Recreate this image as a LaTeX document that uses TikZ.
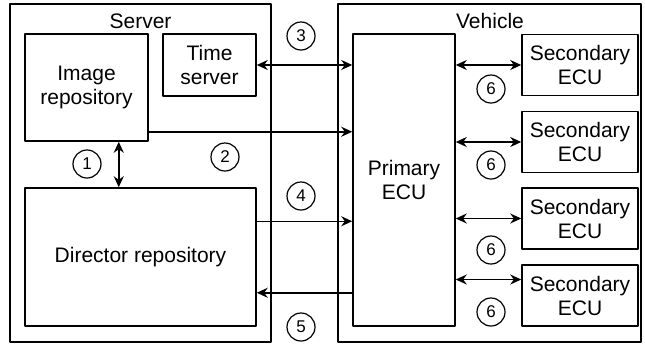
\documentclass[tikz,border=0pt]{standalone}
\usepackage{fontspec}
\setmainfont{Liberation Sans}
\usetikzlibrary{arrows.meta}
\begin{document}
\begin{tikzpicture}[x=1pt,y=-1pt,>={Stealth[length=11pt,width=10pt]},line width=1.5pt,line join=round,
	box/.style={draw,align=center,inner sep=0pt,font=\fontsize{21}{24}\selectfont},
	title/.style={anchor=base,inner sep=0pt,font=\fontsize{21}{24}\selectfont},
	num/.style={draw,circle,minimum size=28pt,inner sep=0pt,line width=1.2pt,font=\fontsize{17}{17}\selectfont}]
	\useasboundingbox (0,0) rectangle (645,346);
	\node[box,minimum width=261pt,minimum height=338pt] (server) at (140.5,173) {};
	\node[box,minimum width=303pt,minimum height=338pt] (vehicle) at (489.5,173) {};
	\node[title] (serverlbl) at (140.5,28) {Server};
	\node[title] (vehiclelbl) at (490,28) {Vehicle};
	\node[box,minimum width=123pt,minimum height=107pt] (img) at (86.5,87.5) {Image\\repository};
	\node[box,minimum width=93pt,minimum height=62pt] (time) at (209.5,65) {Time\\server};
	\node[box,minimum width=231pt,minimum height=138pt] (dir) at (140.5,257) {Director repository};
	\node[box,minimum width=102pt,minimum height=292pt] (pecu) at (404,180) {Primary\\ECU};
	\foreach \i/\y/\s in {1/65/0,2/142/0,3/218.5/0,4/295.5/16}{
		\node[box,minimum width=116pt,minimum height=61pt] (secu\i) at (580,\y) {Secondary\\ECU};
		\draw[<->] ([yshift=\s pt]secu\i.west -| pecu.east) -- ([yshift=\s pt]secu\i.west);
	}
	\node[num] (n1) at (87,164) {1};
	\node[num] (n2) at (225,157) {2};
	\node[num] (n3) at (301,36) {3};
	\node[num] (n4) at (301,196) {4};
	\node[num] (n5) at (301,327) {5};
	\node[num] (n6a) at (491,89) {6};
	\node[num] (n6b) at (491,165) {6};
	\node[num] (n6c) at (491,250) {6};
	\node[num] (n6d) at (491,312) {6};
	\draw[<->] ([xshift=-30pt]img.south east) -- ([xshift=-30pt]img.south east |- dir.north);
	\draw[<->] (time.east) -- (time.east -| pecu.west);
	\draw[->] ([yshift=10pt]img.south east) -- ([yshift=10pt]img.south east -| pecu.west);
	\draw[->] ([yshift=-34pt]dir.north east) -- ([yshift=-34pt]dir.north east -| pecu.west);
	\draw[<-] ([yshift=34pt]dir.south east) -- ([yshift=34pt]dir.south east -| pecu.west);
\end{tikzpicture}
\end{document}
